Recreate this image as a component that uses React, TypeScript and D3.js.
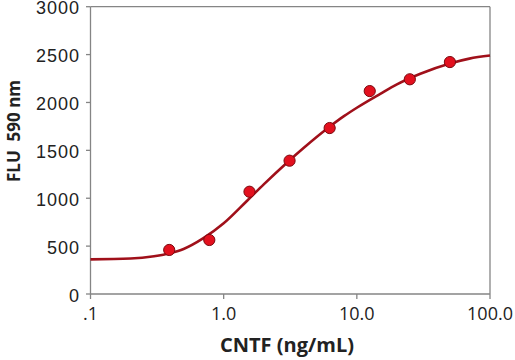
import * as d3 from "d3";

const doseX: number[] = [0.39, 0.78, 1.5625, 3.125, 6.25, 12.5, 25, 50];
const fluY: number[] = [460, 564, 1068, 1392, 1733, 2119, 2242, 2422];

// fitted curve
const fitX: number[] = [0.1, 0.2, 0.3, 0.4, 0.5, 0.7, 1, 1.5, 2, 3, 4, 6, 8, 10, 15, 20, 30, 50, 70, 100];
const fitY: number[] = [362, 370, 394, 428, 470, 580, 738, 974, 1145, 1374, 1527, 1728, 1857, 1945, 2090, 2189, 2300, 2407, 2458, 2490];

const xTicks: number[] = [0.1, 1, 10, 100];
const xTickLabels: string[] = [".1", "1.0", "10.0", "100.0"];
const yTicks: number[] = [0, 500, 1000, 1500, 2000, 2500, 3000];

const width = 515;
const height = 360;
const margin = { top: 6.7, right: 25, bottom: 66, left: 90.5 };

const App = () => {
  const x = d3.scaleLog()
    .domain([0.1, 100])
    .range([margin.left, width - margin.right]);
  const y = d3.scaleLinear()
    .domain([0, 3000])
    .range([height - margin.bottom, margin.top]);

  const line = d3.line<number>()
    .x((d) => x(d))
    .y((_, i) => y(fitY[i]))
    .curve(d3.curveMonotoneX);

  const axisColor = "#858585";
  const x0 = x(0.1);
  const x1 = x(100);
  const y0 = y(0);
  const y1 = y(3000);

  return (
    <svg width={width} height={height} style={{ position: "absolute", left: 0, top: 0, background: "#fff" }}>
      {/* frame */}
      <line x1={x0} x2={x1} y1={y1} y2={y1} stroke={axisColor} strokeWidth={1.3} />
      <line x1={x1} x2={x1} y1={y1} y2={y0} stroke={axisColor} strokeWidth={1.3} />
      <line x1={x0} x2={x1} y1={y0} y2={y0} stroke={axisColor} strokeWidth={1.3} />
      <line x1={x0} x2={x0} y1={y1} y2={y0} stroke={axisColor} strokeWidth={1.3} />

      {yTicks.map((t) => (
        <g key={t}>
          <line x1={x0 - 4.5} x2={x0} y1={y(t)} y2={y(t)} stroke={axisColor} strokeWidth={1.3} />
          <text x={80} y={y(t)} dy="0.42em" textAnchor="end" fontFamily="'Liberation Sans', Arial, sans-serif"
            fontSize={18} letterSpacing={1} fill="#222">{t}</text>
        </g>
      ))}

      {xTicks.map((t, i) => (
        <g key={t}>
          <line x1={x(t)} x2={x(t)} y1={y0} y2={y0 + 5} stroke={axisColor} strokeWidth={1.3} />
          <text x={x(t)} y={320} textAnchor="middle" fontFamily="'Open Sans', sans-serif"
            fontSize={18} fill="#222">{xTickLabels[i]}</text>
        </g>
      ))}

      <path d={line(fitX) || ""} fill="none" stroke="#a0101a" strokeWidth={2.6} />

      {doseX.map((d, i) => (
        <circle key={d} cx={x(d)} cy={y(fluY[i])} r={5.6} fill="#e3101e" stroke="#7a0a10" strokeWidth={1} />
      ))}

      <text x={287} y={352} textAnchor="middle" fontFamily="'Open Sans', sans-serif" fontWeight="bold"
        fontSize={20} fill="#222">CNTF (ng/mL)</text>
      <text transform={`translate(20,131) rotate(-90)`} textAnchor="middle" fontFamily="'Open Sans', sans-serif"
        fontWeight="bold" fontSize={17} fill="#222" style={{ whiteSpace: "pre" }}>FLU  590 nm</text>
    </svg>
  );
};

export default App;
